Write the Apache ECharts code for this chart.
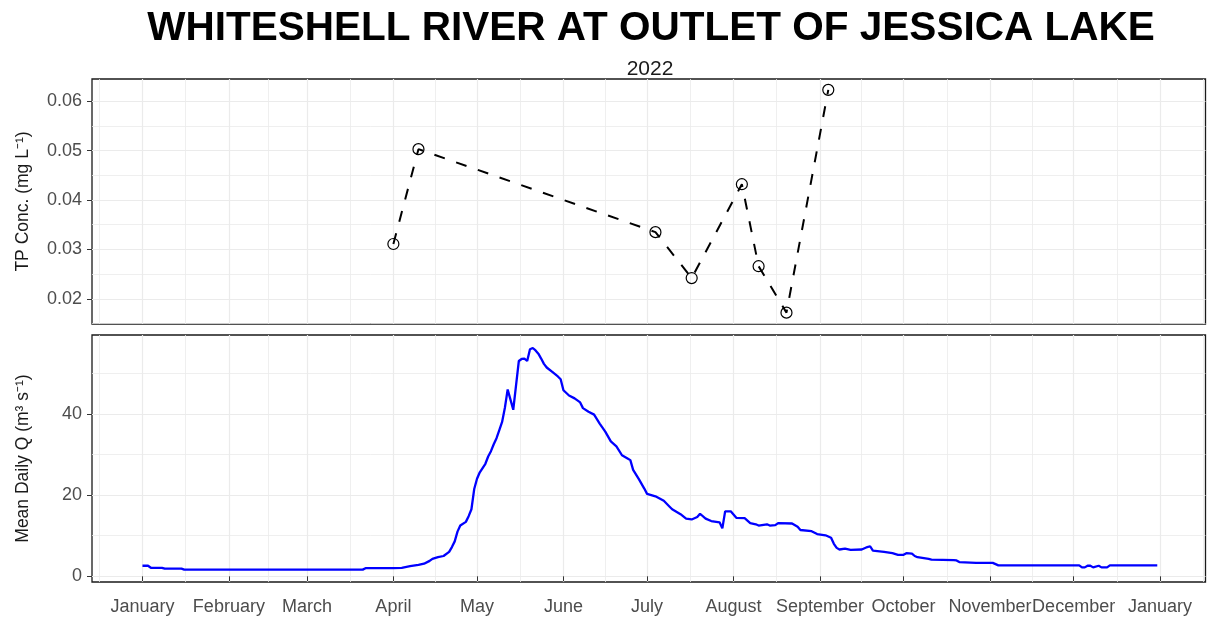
<!doctype html>
<html lang="en">
<head>
<meta charset="UTF-8" />
<title>Whiteshell River at Outlet of Jessica Lake</title>
<script src="https://cdn.jsdelivr.net/npm/echarts@6/dist/echarts.min.js"></script>
<style>
  html, body { margin: 0; padding: 0; background: #fff; }
  #chart { width: 1209px; height: 617px; }
</style>
</head>
<body>
<div id="chart"></div>
<script>
// TP grab samples
const tpDates = ['2022-04-01', '2022-04-10', '2022-07-04', '2022-07-17',
                 '2022-08-04', '2022-08-10', '2022-08-20', '2022-09-04'];
const tpValues = [0.0311, 0.0503, 0.0335, 0.0242, 0.0432, 0.0266, 0.0172, 0.0623];

// mean daily discharge
const qDates = [
  '2022-01-01', '2022-01-03', '2022-01-04', '2022-01-08', '2022-01-09', '2022-01-15', '2022-01-16',
  '2022-03-21', '2022-03-22', '2022-04-01', '2022-04-04', '2022-04-07', '2022-04-10', '2022-04-12',
  '2022-04-14', '2022-04-15', '2022-04-17', '2022-04-19', '2022-04-21', '2022-04-22', '2022-04-23',
  '2022-04-24', '2022-04-25', '2022-04-27', '2022-04-28', '2022-04-29', '2022-04-30', '2022-05-01',
  '2022-05-02', '2022-05-04', '2022-05-05', '2022-05-06', '2022-05-07', '2022-05-08', '2022-05-09',
  '2022-05-10', '2022-05-11', '2022-05-12', '2022-05-13', '2022-05-14', '2022-05-15', '2022-05-16',
  '2022-05-17', '2022-05-18', '2022-05-19', '2022-05-20', '2022-05-21', '2022-05-22', '2022-05-23',
  '2022-05-24', '2022-05-25', '2022-05-26', '2022-05-28', '2022-05-30', '2022-05-31', '2022-06-01',
  '2022-06-03', '2022-06-05', '2022-06-07', '2022-06-08', '2022-06-10', '2022-06-12', '2022-06-14',
  '2022-06-16', '2022-06-18', '2022-06-20', '2022-06-22', '2022-06-24', '2022-06-25', '2022-06-26',
  '2022-06-28', '2022-06-30', '2022-07-01', '2022-07-04', '2022-07-07', '2022-07-09', '2022-07-10',
  '2022-07-13', '2022-07-15', '2022-07-17', '2022-07-19', '2022-07-20', '2022-07-22', '2022-07-24',
  '2022-07-27', '2022-07-28', '2022-07-29', '2022-07-31', '2022-08-02', '2022-08-05', '2022-08-07',
  '2022-08-09', '2022-08-10', '2022-08-13', '2022-08-14', '2022-08-16', '2022-08-17', '2022-08-22',
  '2022-08-24', '2022-08-25', '2022-08-29', '2022-08-31', '2022-09-03', '2022-09-05', '2022-09-06',
  '2022-09-07', '2022-09-08', '2022-09-10', '2022-09-12', '2022-09-16', '2022-09-18', '2022-09-19',
  '2022-09-20', '2022-09-24', '2022-09-27', '2022-09-29', '2022-10-01', '2022-10-02', '2022-10-04',
  '2022-10-05', '2022-10-06', '2022-10-10', '2022-10-11', '2022-10-19', '2022-10-20', '2022-10-21',
  '2022-10-27', '2022-11-02', '2022-11-03', '2022-11-04', '2022-12-03', '2022-12-04', '2022-12-05',
  '2022-12-06', '2022-12-07', '2022-12-08', '2022-12-10', '2022-12-11', '2022-12-13', '2022-12-14',
  '2022-12-31'
];
const qValues = [
  2.6, 2.6, 2.1, 2.1, 1.9, 1.9, 1.65,
  1.65, 2.0, 2.0, 2.1, 2.5, 2.8, 3.1,
  3.8, 4.3, 4.7, 5.0, 6.0, 7.2, 8.6,
  11.0, 12.5, 13.4, 14.8, 16.5, 21.5, 24.0,
  25.6, 27.7, 29.5, 30.8, 32.5, 34.0, 36.0,
  38.0, 41.5, 46.0, 43.5, 41.0, 47.0, 53.0,
  53.5, 53.6, 53.0, 55.9, 56.2, 55.6, 54.8,
  53.6, 52.3, 51.4, 50.3, 49.2, 48.5, 45.8,
  44.5, 43.8, 42.8, 41.4, 40.5, 39.8, 37.6,
  35.6, 33.2, 32.0, 29.8, 29.0, 28.6, 26.2,
  24.0, 21.6, 20.3, 19.7, 18.6, 17.2, 16.5,
  15.3, 14.2, 14.0, 14.6, 15.4, 14.2, 13.6,
  13.3, 11.8, 16.0, 16.0, 14.4, 14.3, 13.1,
  12.8, 12.5, 12.8, 12.5, 12.6, 13.1, 13.0,
  12.2, 11.4, 11.1, 10.4, 10.1, 9.5, 8.0,
  7.0, 6.6, 6.8, 6.5, 6.6, 7.2, 7.4,
  6.3, 6.0, 5.7, 5.3, 5.3, 5.7, 5.6,
  5.0, 4.7, 4.3, 4.1, 4.0, 3.9, 3.5,
  3.3, 3.3, 3.0, 2.7, 2.7, 2.2, 2.2,
  2.6, 2.6, 2.2, 2.6, 2.2, 2.2, 2.7,
  2.7
];

// month breaks (major gridlines + labels)
const monthBreaks = ['2021-12-01', '2022-01-01', '2022-02-01', '2022-03-01', '2022-04-01',
  '2022-05-01', '2022-06-01', '2022-07-01', '2022-08-01', '2022-09-01', '2022-10-01',
  '2022-11-01', '2022-12-01', '2023-01-01', '2023-02-01'];
const monthNames = ['January', 'February', 'March', 'April', 'May', 'June', 'July',
  'August', 'September', 'October', 'November', 'December'];

const tpTicks = [0.02, 0.03, 0.04, 0.05, 0.06];
const tpMinor = [0.015, 0.025, 0.035, 0.045, 0.055];
const qTicks = [0, 20, 40];
const qMinor = [10, 30, 50];

const DAY = 86400000;
function toTime(s) {
  const p = s.split('-').map(Number);
  return Date.UTC(p[0], p[1] - 1, p[2]);
}
const breakTimes = monthBreaks.map(toTime);
const minorTimes = [];
for (let i = 1; i < breakTimes.length; i++) {
  minorTimes.push((breakTimes[i - 1] + breakTimes[i]) / 2);
}
const xMin = toTime('2022-01-01') - 18.1 * DAY;
const xMax = toTime('2022-01-01') + 381.3 * DAY;

const FONT = 'Liberation Sans';
const gridColor = '#EBEBEB';

function xAxisMajor(gridIndex, withLabels) {
  return {
    type: 'value', gridIndex: gridIndex, min: xMin, max: xMax,
    axisLine: { show: false },
    axisTick: {
      show: withLabels, customValues: breakTimes, length: 5,
      lineStyle: { color: '#333333', width: 1 }
    },
    axisLabel: {
      show: withLabels, customValues: breakTimes, margin: 16,
      fontFamily: FONT, fontSize: 18, color: '#4D4D4D',
      formatter: function (v) { return monthNames[new Date(v).getUTCMonth()]; }
    },
    splitLine: { show: true, lineStyle: { color: gridColor, width: 1.2 } }
  };
}
function xAxisMinor(gridIndex) {
  return {
    type: 'value', gridIndex: gridIndex, min: xMin, max: xMax,
    axisLine: { show: false },
    axisTick: { show: false, customValues: minorTimes },
    axisLabel: { show: false, customValues: minorTimes },
    splitLine: { show: true, lineStyle: { color: gridColor, width: 0.8 } }
  };
}
function yAxisMajor(gridIndex, min, max, ticks, name, decimals) {
  return {
    type: 'value', gridIndex: gridIndex, min: min, max: max,
    name: name, nameLocation: 'middle', nameGap: 60,
    nameTextStyle: { fontFamily: FONT, fontSize: 17.5, color: '#1A1A1A' },
    axisLine: { show: false },
    axisTick: { show: true, customValues: ticks, length: 5, lineStyle: { color: '#333333', width: 1 } },
    axisLabel: {
      customValues: ticks, margin: 10, fontFamily: FONT, fontSize: 18, color: '#4D4D4D',
      formatter: function (v) { return v.toFixed(decimals); }
    },
    splitLine: { show: true, lineStyle: { color: gridColor, width: 1.2 } }
  };
}
function yAxisMinor(gridIndex, min, max, ticks) {
  return {
    type: 'value', gridIndex: gridIndex, min: min, max: max,
    axisLine: { show: false },
    axisTick: { show: false, customValues: ticks },
    axisLabel: { show: false, customValues: ticks },
    splitLine: { show: true, lineStyle: { color: gridColor, width: 0.8 } }
  };
}

const chart = echarts.init(document.getElementById('chart'));
chart.setOption({
  animation: false,
  backgroundColor: '#ffffff',
  title: [
    {
      text: 'WHITESHELL RIVER AT OUTLET OF JESSICA LAKE',
      left: 651, top: 8, textAlign: 'center', padding: 0,
      textStyle: { fontFamily: FONT, fontSize: 40.5, fontWeight: 'bold', color: '#000000' }
    },
    {
      text: '2022',
      left: 650, top: 59, textAlign: 'center', padding: 0,
      textStyle: { fontFamily: FONT, fontSize: 21, fontWeight: 'normal', color: '#1A1A1A' }
    }
  ],
  grid: [
    { left: 92, top: 79, width: 1113.5, height: 245, show: true, borderColor: '#1A1A1A', borderWidth: 1.3 },
    { left: 92, top: 335, width: 1113.5, height: 247, show: true, borderColor: '#1A1A1A', borderWidth: 1.3 }
  ],
  xAxis: [
    xAxisMajor(0, false), xAxisMinor(0),
    xAxisMajor(1, true), xAxisMinor(1)
  ],
  yAxis: [
    yAxisMajor(0, 0.0149, 0.0645, tpTicks, 'TP Conc. (mg L\u207B\u00B9)', 2),
    yAxisMinor(0, 0.0149, 0.0645, tpMinor),
    yAxisMajor(1, -1.4, 59.4, qTicks, 'Mean Daily Q (m\u00B3 s\u207B\u00B9)', 0),
    yAxisMinor(1, -1.4, 59.4, qMinor)
  ],
  series: [
    {
      type: 'line', name: 'TP', xAxisIndex: 0, yAxisIndex: 0,
      data: tpDates.map((d, i) => [toTime(d), tpValues[i]]),
      symbol: 'circle', symbolSize: 11,
      itemStyle: { color: 'rgba(255,255,255,0)', borderColor: '#000000', borderWidth: 1.2 },
      lineStyle: { color: '#000000', width: 2, type: [11, 12] },
      z: 3
    },
    {
      type: 'line', name: 'Q', xAxisIndex: 2, yAxisIndex: 2,
      data: qDates.map((d, i) => [toTime(d), qValues[i]]),
      showSymbol: false, symbol: 'none',
      lineStyle: { color: '#0000FF', width: 2.3 },
      z: 3
    }
  ]
});
</script>
</body>
</html>
